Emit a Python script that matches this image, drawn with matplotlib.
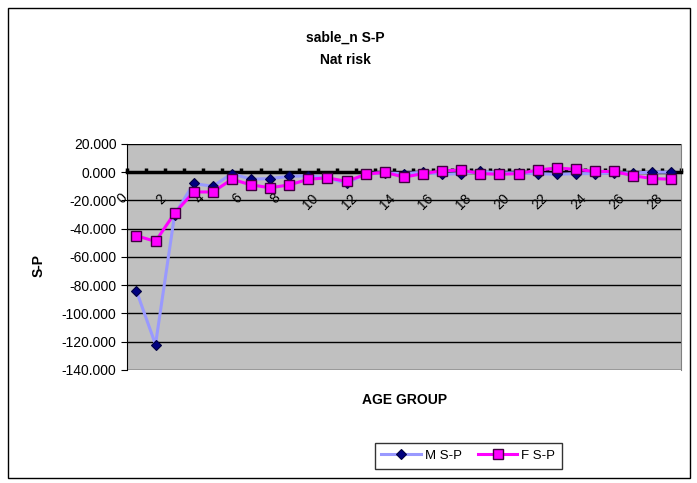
import matplotlib.pyplot as plt
import matplotlib.patches as patches
from matplotlib.transforms import ScaledTranslation
import numpy as np

plt.rcParams['font.family'] = ['Liberation Sans', 'DejaVu Sans']

# age groups 0..28
ages = list(range(29))
age_labels = [str(a) for a in ages[::2]]
m_sp = [-84, -122, -30, -8, -10, -1, -5, -4.5, -3, -2.5, -4, -8, -1, -0.5, -1,
        0, -1.5, -1, 0.5, -0.5, -0.5, -1, -1.5, -1, -1, -0.5, -0.5, 0, 0]
f_sp = [-45, -49, -29, -14, -14, -5, -9, -11, -9, -5, -4, -6.5, -1.5, 0, -3.5,
        -1, 1, 1.5, -1, -1.5, -1, 1.5, 3, 2, 0.5, 0.5, -2.5, -4.5, -5]
yticks = [20, 0, -20, -40, -60, -80, -100, -120, -140]

fig = plt.figure(figsize=(6.97, 4.83), dpi=100)
ax = fig.add_axes([0.182, 0.234, 0.795, 0.468])
ax.set_facecolor('#C0C0C0')

# move the category axis to y=0 first (this resets the ticks)
ax.spines['bottom'].set_position(('data', 0))
ax.spines['bottom'].set_linewidth(2.5)
ax.spines['top'].set_visible(False)
ax.spines['right'].set_color('#808080')

ax.plot(ages, m_sp, color='#9999FF', lw=2.2, marker='D', ms=5.5,
        mfc='#000080', mec='#000040', mew=0.8, label='M S-P', zorder=3)
ax.plot(ages, f_sp, color='#FF00FF', lw=2.2, marker='s', ms=6.5,
        mfc='#FF00FF', mec='#400040', mew=1.0, label='F S-P', zorder=4)

ax.set_xlim(-0.5, 28.5)
ax.set_ylim(-140, 20)
ax.set_yticks(yticks)
ax.set_yticklabels(['%.3f' % v for v in yticks], fontsize=10)
ax.yaxis.grid(True, color='black', lw=1)
ax.set_axisbelow(True)

# tick marks between categories, pointing up from the zero line
ax.set_xticks(np.arange(-0.5, 29, 1))
ax.set_xticklabels([])
ax.tick_params(axis='x', direction='in', length=3, width=2.5)
ax.tick_params(axis='y', direction='out', length=4)

# rotated category labels, sitting down-left of each category
off = ax.transData + ScaledTranslation(-0.11, -0.24, fig.dpi_scale_trans)
for a, lab in zip(ages[::2], age_labels):
    ax.text(a, 0, lab, transform=off, rotation=45, rotation_mode='anchor',
            ha='right', va='center', fontsize=10, clip_on=False, zorder=1.5)

fig.text(0.495, 0.921, 'sable_n S-P', ha='center', va='center',
         fontsize=10, fontweight='bold')
fig.text(0.495, 0.876, 'Nat risk', ha='center', va='center',
         fontsize=10, fontweight='bold')
fig.text(0.055, 0.451, 'S-P', rotation=90, ha='center', va='center',
         fontsize=10, fontweight='bold')
fig.text(0.581, 0.172, 'AGE GROUP', ha='center', va='center',
         fontsize=10, fontweight='bold')

leg = fig.legend(loc='center', bbox_to_anchor=(0.672, 0.056), ncol=2,
                 fontsize=9.5, frameon=True, fancybox=False, edgecolor='black',
                 handlelength=3.0, columnspacing=1.2, handletextpad=0.3,
                 borderpad=0.5)
leg.get_frame().set_linewidth(1)

fig.patches.append(patches.Rectangle((8 / 697, 5 / 483), 682 / 697, 470 / 483,
                                     transform=fig.transFigure, fill=False,
                                     edgecolor='black', lw=1))

fig.savefig('out.png', dpi=100)
